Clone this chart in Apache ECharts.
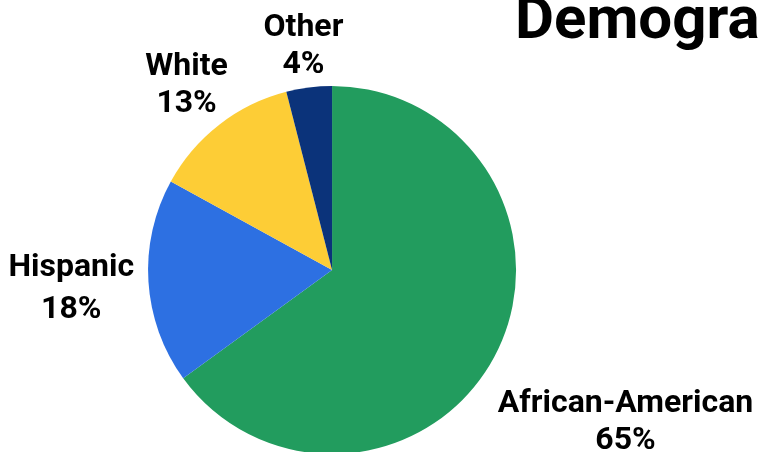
<!DOCTYPE html>
<html>
<head>
<meta charset="utf-8">
<script src="https://cdn.jsdelivr.net/npm/echarts@6/dist/echarts.min.js"></script>
<style>
html,body{margin:0;padding:0;background:#fff;}
#chart{width:759px;height:452px;}
</style>
</head>
<body>
<div id="chart"></div>
<script>
const titleText = 'Demographics';
const categories = ['African-American', 'Hispanic', 'White', 'Other'];
const values = [65, 18, 13, 4];
const colors = ['#229C5E', '#2D70E2', '#FDCD36', '#0B337A'];
// label distance from centre (in radii) and line spacing
const labelDist = [1.79, 1.42, 1.29, 1.24];
const labelLineHeight = [37, 42, 37, 37];

const chart = echarts.init(document.getElementById('chart'));
const total = values.reduce((a, b) => a + b, 0);
const midAngles = [];
let acc = 0;
values.forEach(v => { midAngles.push((acc + v / 2) / total * 2 * Math.PI); acc += v; });

const centerPct = ['43.75%', '59.75%'];
const radiusPx = 184;
const labelNudgeY = 3;

chart.setOption({
  animation: false,
  backgroundColor: '#fff',
  title: {
    text: titleText,
    left: 515,
    top: -7,
    padding: 0,
    textStyle: { fontFamily: 'Roboto', fontWeight: 'bold', fontSize: 60, color: '#000' }
  },
  series: [{
    type: 'pie',
    center: centerPct,
    radius: radiusPx,
    startAngle: 90,
    clockwise: true,
    itemStyle: { borderWidth: 0 },
    emphasis: { disabled: true },
    label: {
      show: true,
      position: 'outside',
      formatter: p => p.name + '\n' + p.value + '%',
      fontFamily: 'Roboto',
      fontWeight: 'bold',
      fontSize: 32,
      color: '#000',
      align: 'center',
      overflow: 'none'
    },
    labelLine: { show: false },
    labelLayout: function (params) {
      const i = params.dataIndex;
      const cx = chart.getWidth() * parseFloat(centerPct[0]) / 100;
      const cy = chart.getHeight() * parseFloat(centerPct[1]) / 100;
      const d = radiusPx * labelDist[i];
      return {
        x: cx + d * Math.sin(midAngles[i]),
        y: cy - d * Math.cos(midAngles[i]) + labelNudgeY,
        align: 'center',
        verticalAlign: 'middle'
      };
    },
    data: categories.map((c, i) => ({
      name: c,
      value: values[i],
      itemStyle: { color: colors[i] },
      label: { lineHeight: labelLineHeight[i] }
    }))
  }]
});
</script>
</body>
</html>
